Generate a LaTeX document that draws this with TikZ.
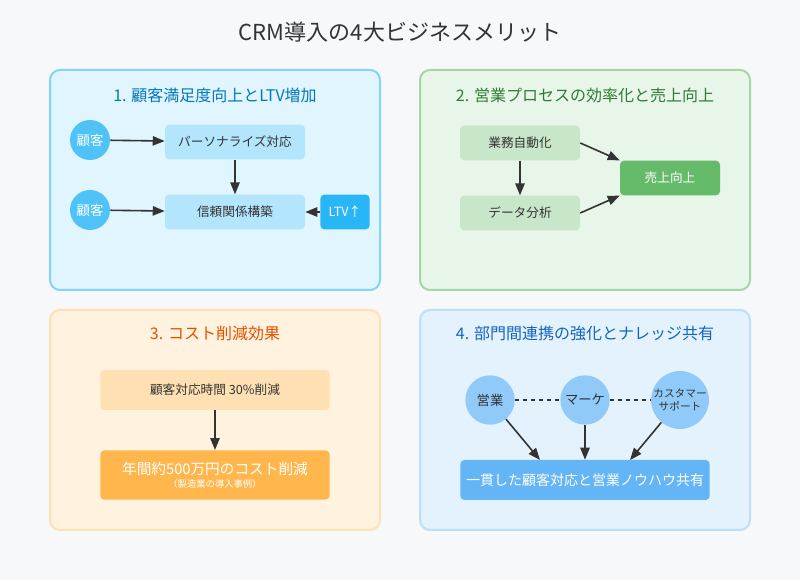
\documentclass[tikz,border=0pt]{standalone}
\usepackage{fontspec}
\setmainfont{Noto Sans CJK JP}
\usetikzlibrary{arrows.meta}
\definecolor{bgc}{HTML}{F7F8FA}
\definecolor{txt}{HTML}{333333}
\definecolor{pbA}{HTML}{E1F5FE}\definecolor{pdA}{HTML}{81D4FA}\definecolor{ttA}{HTML}{0277BD}
\definecolor{pbB}{HTML}{E8F5E9}\definecolor{pdB}{HTML}{A5D6A7}\definecolor{ttB}{HTML}{2E7D32}
\definecolor{pbC}{HTML}{FFF3E0}\definecolor{pdC}{HTML}{FFE0B2}\definecolor{ttC}{HTML}{E65100}
\definecolor{pbD}{HTML}{E3F2FD}\definecolor{pdD}{HTML}{BBDEFB}\definecolor{ttD}{HTML}{1565C0}
\definecolor{cA}{HTML}{4FC3F7}\definecolor{bA}{HTML}{B3E5FC}\definecolor{dA}{HTML}{29B6F6}
\definecolor{bB}{HTML}{C8E6C9}\definecolor{dB}{HTML}{66BB6A}
\definecolor{bC}{HTML}{FFE0B2}\definecolor{dC}{HTML}{FFB74D}
\definecolor{cD}{HTML}{90CAF9}\definecolor{dD}{HTML}{64B5F6}
\begin{document}
\begin{tikzpicture}[x=0.75pt,y=-0.75pt,
  panel/.style={rounded corners=7.5pt, line width=1.5pt},
  ptitle/.style={font=\fontsize{12}{14}\selectfont},
  box/.style={rounded corners=3pt, minimum height=26pt, font=\fontsize{9.5}{11}\selectfont, text=txt},
  circ/.style={circle, minimum size=30pt, inner sep=0pt, font=\fontsize{10}{12}\selectfont},
  arr/.style={-{Triangle[length=9pt,width=7pt]}, line width=1.2pt, draw=txt}]
\fill[bgc] (0,0) rectangle (800,580);
\node[text=txt, font=\fontsize{16.5}{19}\selectfont] (title) at (400,32) {CRM導入の4大ビジネスメリット};
% panels
\draw[panel, fill=pbA, draw=pdA] (50,70) rectangle (380,290);
\draw[panel, fill=pbB, draw=pdB] (420,70) rectangle (750,290);
\draw[panel, fill=pbC, draw=pdC] (50,310) rectangle (380,530);
\draw[panel, fill=pbD, draw=pdD] (420,310) rectangle (750,530);
\node[ptitle, text=ttA] (tA) at (215,95) {1. 顧客満足度向上とLTV増加};
\node[ptitle, text=ttB] (tB) at (585,95) {2. 営業プロセスの効率化と売上向上};
\node[ptitle, text=ttC] (tC) at (215,333) {3. コスト削減効果};
\node[ptitle, text=ttD] (tD) at (585,333) {4. 部門間連携の強化とナレッジ共有};
% panel 1
\node[circ, fill=cA, text=white] (custA) at (90,140) {顧客};
\node[circ, fill=cA, text=white] (custB) at (90,210) {顧客};
\node[box, fill=bA, minimum width=105pt] (pers) at (235,142) {パーソナライズ対応};
\node[box, fill=bA, minimum width=105pt] (trust) at (235,212) {信頼関係構築};
\node[box, fill=dA, text=white, minimum width=37pt] (ltv) at (345,212) {LTV↑};
\draw[arr] (custA) -- (pers);
\draw[arr] (custB) -- (trust);
\draw[arr] (pers) -- (trust);
\draw[arr] (ltv) -- (trust);
% panel 2
\node[box, fill=bB, minimum width=90pt] (auto) at (520,143) {業務自動化};
\node[box, fill=bB, minimum width=90pt] (anal) at (520,213) {データ分析};
\node[box, fill=dB, text=white, minimum width=75pt] (sales) at (670,178) {売上向上};
\draw[arr] (auto) -- (anal);
\draw[arr] (auto.east) -- (sales.north west);
\draw[arr] (anal.east) -- (sales.south west);
% panel 3
\node[box, fill=bC, minimum width=172pt, minimum height=30pt] (time) at (215,390) {顧客対応時間 30\%削減};
\node[box, fill=dC, text=white, minimum width=172pt, minimum height=37pt, align=center] (cost) at (215,475)
  {\fontsize{11}{13}\selectfont 年間約500万円のコスト削減\\[-1pt]\fontsize{7}{9}\selectfont （製造業の導入事例）};
\draw[arr] (time) -- (cost);
% panel 4
\node[circ, fill=cD, minimum size=37pt, text=txt] (eigyo) at (490,400) {営業};
\node[circ, fill=cD, minimum size=37pt, text=txt] (mark) at (585,400) {マーケ};
\node[circ, fill=cD, minimum size=37pt, text=txt, align=center, font=\fontsize{8}{10}\selectfont] (supp) at (680,400) {カスタマー\\サポート};
\node[box, fill=dD, text=white, minimum width=187pt, minimum height=30pt, font=\fontsize{10.5}{12}\selectfont] (share) at (585,480) {一貫した顧客対応と営業ノウハウ共有};
\draw[txt, line width=1.2pt, dashed] (eigyo) -- (mark);
\draw[txt, line width=1.2pt, dashed] (mark) -- (supp);
\draw[arr] (eigyo) -- (540,460);
\draw[arr] (mark) -- (share);
\draw[arr] (supp) -- (630,460);
\end{tikzpicture}
\end{document}
